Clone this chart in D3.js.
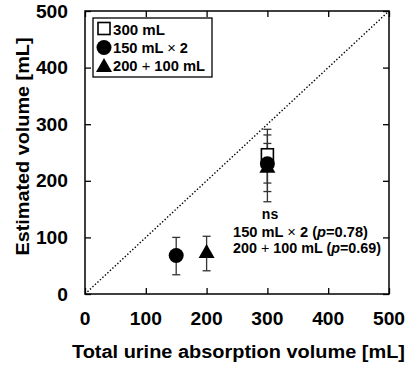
<!DOCTYPE html>
<html>
<head>
<meta charset="utf-8">
<script src="https://cdn.jsdelivr.net/npm/d3@7"></script>
<style>
  body { margin: 0; background: #fff; }
  svg text { font-family: "Liberation Sans", Arial, sans-serif; font-weight: bold; fill: #000; }
  .thin { font-weight: normal; }
</style>
</head>
<body>
<div id="chart"></div>
<script>
// Data
const groups = ["300 mL", "150 mL\u00d72", "200\uff0b100 mL"];
const shapes = ["square", "circle", "triangle"];
const xSplit = [null, 150, 200];                // x of the first-portion points
const meanSplit = [null, 68, 74];
const lowSplit = [null, 34, 41];
const highSplit = [null, 100, 102];
const mean300 = [246, 230, 225];                // estimated at total 300 mL
const low300 = [196, 163, 181];
const high300 = [266, 291, 281];
const ticks = [0, 100, 200, 300, 400, 500];

const W = 408, H = 370;
const margin = { top: 11, right: 19, bottom: 76, left: 85 };

const svg = d3.select("#chart").append("svg")
    .attr("width", W)
    .attr("height", H);

const x = d3.scaleLinear().domain([0, 500]).range([margin.left, W - margin.right]);
const y = d3.scaleLinear().domain([0, 500]).range([H - margin.bottom, margin.top]);

// Axes with inward ticks on all four sides
const tickLen = 6;
svg.append("g")
    .attr("transform", `translate(0,${y(0)})`)
    .call(d3.axisTop(x).tickValues(ticks).tickSize(tickLen).tickFormat(""));
svg.append("g")
    .attr("transform", `translate(0,${y(500)})`)
    .call(d3.axisBottom(x).tickValues(ticks).tickSize(tickLen).tickFormat(""));
svg.append("g")
    .attr("transform", `translate(${x(0)},0)`)
    .call(d3.axisRight(y).tickValues(ticks).tickSize(tickLen).tickFormat(""));
svg.append("g")
    .attr("transform", `translate(${x(500)},0)`)
    .call(d3.axisLeft(y).tickValues(ticks).tickSize(tickLen).tickFormat(""));
svg.selectAll(".domain").remove();
svg.selectAll(".tick line").attr("stroke", "#000").attr("stroke-width", 1.3);

svg.append("rect")
    .attr("x", x(0)).attr("y", y(500))
    .attr("width", x(500) - x(0)).attr("height", y(0) - y(500))
    .attr("fill", "none").attr("stroke", "#000").attr("stroke-width", 1.5);

// Tick labels (the original font is a bit wider than Liberation Sans)
const digitW = 10.7;
svg.selectAll(".xl").data(ticks).enter().append("text")
    .attr("x", d => x(d)).attr("y", y(0) + 31)
    .attr("text-anchor", "middle").style("font-size", "18px")
    .attr("textLength", d => String(d).length * digitW).attr("lengthAdjust", "spacingAndGlyphs")
    .text(d => d);
svg.selectAll(".yl").data(ticks).enter().append("text")
    .attr("x", x(0) - 17).attr("y", d => y(d) + 6.5)
    .attr("text-anchor", "end").style("font-size", "18px")
    .attr("textLength", d => String(d).length * digitW).attr("lengthAdjust", "spacingAndGlyphs")
    .text(d => d);

// Axis titles
svg.append("text")
    .attr("x", 72).attr("y", 358)
    .style("font-size", "18px")
    .attr("textLength", 333).attr("lengthAdjust", "spacingAndGlyphs")
    .text("Total urine absorption volume [mL]");
svg.append("text")
    .attr("transform", `translate(29,${(y(0) + y(500)) / 2 - 6}) rotate(-90)`)
    .attr("text-anchor", "middle").style("font-size", "18px")
    .attr("textLength", 218).attr("lengthAdjust", "spacingAndGlyphs")
    .text("Estimated volume [mL]");

// Identity line
svg.append("line")
    .attr("x1", x(0)).attr("y1", y(0)).attr("x2", x(500)).attr("y2", y(500))
    .attr("stroke", "#000").attr("stroke-width", 1.4).attr("stroke-dasharray", "1.4,2");

function marker(g, shape, cx, cy) {
    if (shape === "square") {
        g.append("rect").attr("x", cx - 6).attr("y", cy - 6).attr("width", 12).attr("height", 12)
            .attr("fill", "#fff").attr("stroke", "#000").attr("stroke-width", 1.6);
    } else if (shape === "circle") {
        g.append("circle").attr("cx", cx).attr("cy", cy).attr("r", 7.5).attr("fill", "#000");
    } else {
        g.append("path").attr("d", `M${cx},${cy - 8}L${cx + 8},${cy + 6}L${cx - 8},${cy + 6}Z`).attr("fill", "#000");
    }
}

function errbar(g, cx, lo, hi) {
    g.append("line").attr("x1", cx).attr("x2", cx).attr("y1", y(lo)).attr("y2", y(hi))
        .attr("stroke", "#333").attr("stroke-width", 1.3);
    [lo, hi].forEach(v => g.append("line")
        .attr("x1", cx - 4).attr("x2", cx + 4).attr("y1", y(v)).attr("y2", y(v))
        .attr("stroke", "#333").attr("stroke-width", 1.3));
}

const pts = svg.append("g");
groups.forEach((gname, i) => {
    errbar(pts, x(300), low300[i], high300[i]);
    if (meanSplit[i] !== null) errbar(pts, x(xSplit[i]), lowSplit[i], highSplit[i]);
});
groups.forEach((gname, i) => {
    marker(pts, shapes[i], x(300), y(mean300[i]));
    if (meanSplit[i] !== null) marker(pts, shapes[i], x(xSplit[i]), y(meanSplit[i]));
});

// Writes "150 mL × 2" / "200 + 100 mL" with a light-weight operator sign
function labelParts(t, i) {
    if (i === 1) {
        t.append("tspan").text("150 mL ");
        t.append("tspan").attr("class", "thin").text("\u00d7");
        t.append("tspan").text(" 2");
    } else if (i === 2) {
        t.append("tspan").text("200 ");
        t.append("tspan").attr("class", "thin").text("+");
        t.append("tspan").text(" 100 mL");
    } else {
        t.append("tspan").text(groups[i]);
    }
}

// Legend
const legW = [52, 75, 92];
const legMarkY = [28.5, 47.5, 66];
const legTextY = [35, 53, 71];
const leg = svg.append("g");
leg.append("rect").attr("x", 93).attr("y", 18).attr("width", 119).attr("height", 59)
    .attr("fill", "#fff").attr("stroke", "#000").attr("stroke-width", 1.3);
groups.forEach((gname, i) => {
    marker(leg, shapes[i], 104, legMarkY[i]);
    const t = leg.append("text").attr("x", 113).attr("y", legTextY[i])
        .style("font-size", "15px")
        .attr("textLength", legW[i]).attr("lengthAdjust", "spacingAndGlyphs");
    labelParts(t, i);
});

// Annotation
const ann = svg.append("g").style("font-size", "14px");
ann.append("text").attr("x", 270).attr("y", 219).attr("text-anchor", "middle").text("ns");
const a1 = ann.append("text").attr("x", 233).attr("y", 237)
    .attr("textLength", 135).attr("lengthAdjust", "spacingAndGlyphs");
labelParts(a1, 1);
a1.append("tspan").text(" (");
a1.append("tspan").style("font-style", "italic").text("p");
a1.append("tspan").text("=0.78)");
const a2 = ann.append("text").attr("x", 233).attr("y", 253)
    .attr("textLength", 148).attr("lengthAdjust", "spacingAndGlyphs");
labelParts(a2, 2);
a2.append("tspan").text(" (");
a2.append("tspan").style("font-style", "italic").text("p");
a2.append("tspan").text("=0.69)");
</script>
</body>
</html>
